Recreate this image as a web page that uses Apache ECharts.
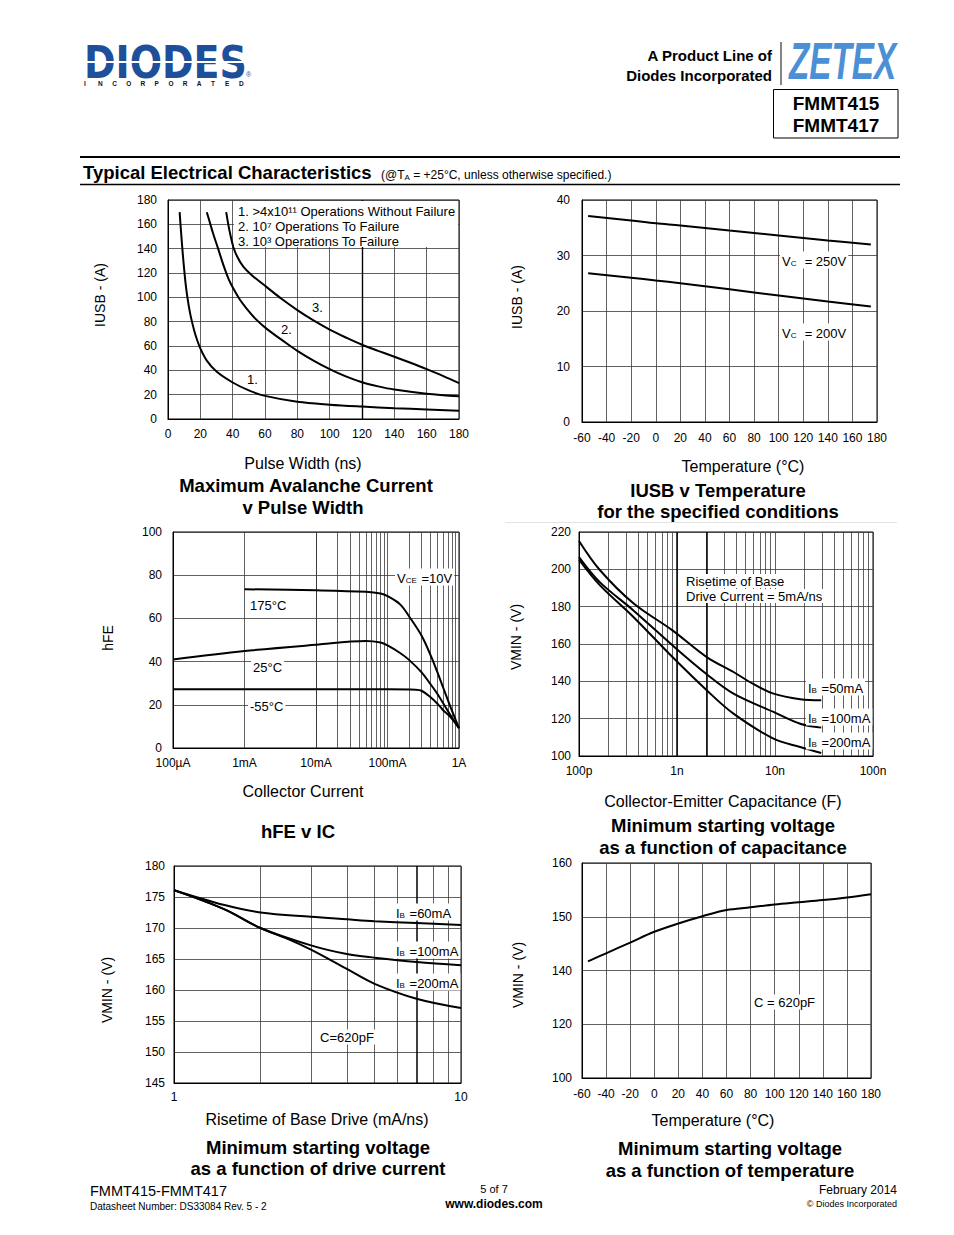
<!DOCTYPE html>
<html>
<head>
<meta charset="utf-8">
<script src="https://cdn.jsdelivr.net/npm/echarts@6/dist/echarts.min.js"></script>
<style>
html,body{margin:0;padding:0;background:#fff;}
#c{width:954px;height:1235px;}
</style>
</head>
<body>
<div id="c"></div>
<script>
// ================= DATA =================
// Chart 1: Maximum Avalanche Current v Pulse Width  ([pulse width ns, IUSB A])
const avalanche1 = [[7.2,170],[8,155],[9,138],[10,123],[11,110],[12,100],[13.5,88],[15,79],[17,69],[20,58],[24,48],[30,39],[40,30],[50,23.5],[60,19],[80,14.2],[100,11.8],[120,10.2],[140,8.9],[160,7.8],[180,6.8]];
const avalanche2 = [[24,170],[26,161],[28,152],[31,140],[34.4,126],[37.5,115],[40.5,107],[44.5,98],[48.8,90.5],[54,82.5],[60.5,74.7],[71.4,64],[80,56],[90,48],[100,41],[110,35],[120,30.2],[130,26.8],[140,24.2],[160,20.8],[180,18.6]];
const avalanche3 = [[36,170],[38,155],[40.5,141],[43,133],[46.7,125],[52,118],[60.5,109],[70,99],[80,89.5],[90,81],[100,73.5],[110,67],[120,61],[130,56],[140,51.2],[150,46.2],[160,41],[170,35.5],[180,29.5]];
const avalancheLegend = ['1. >4x10\u00B9\u00B9 Operations Without Failure','2. 10\u2077 Operations To Failure','3. 10\u00B3 Operations To Failure'];

// Chart 2: IUSB v Temperature
const usbTemps = [-55,-20,0,20,60,100,140,175];
const usbVc250 = [37.1,36.3,35.8,35.4,34.5,33.6,32.7,32.0];
const usbVc200 = [26.8,26.0,25.5,25.0,23.9,22.8,21.7,20.8];

// Chart 3: hFE v IC  ([IC A, hFE])
const hfe175 = [[0.001,73.5],[0.01,73],[0.05,72.3],[0.08,71.5],[0.1,70.3],[0.15,66.5],[0.2,61],[0.3,52],[0.4,43],[0.5,35],[0.6,28],[0.75,19.5],[1,9.2]];
const hfe25 = [[0.0001,41],[0.001,44.9],[0.01,47.8],[0.05,49.5],[0.08,48.8],[0.1,47.5],[0.15,44],[0.2,40.8],[0.3,35],[0.4,29.5],[0.5,25],[0.75,15.5],[1,9.2]];
const hfeM55 = [[0.0001,27.2],[0.1,27.2],[0.25,27],[0.3,26.5],[0.4,23.5],[0.5,20.5],[0.6,17.5],[0.75,14.5],[1,9.2]];
const hfeXLabels = ['100\u00B5A','1mA','10mA','100mA','1A'];

// Chart 4: Minimum starting voltage v capacitance ([C pF, VMIN V])
const capIb50 = [[100,215.2],[164,199.5],[359,181.8],[899,167.3],[2011,153],[3770,145],[6000,138.6],[9660,133.4],[18080,130.4],[29650,129.8]];
const capIb100 = [[100,206.6],[164,193],[359,178],[899,159.3],[2011,143.8],[3770,133.4],[9660,123.6],[18080,117.3],[29650,115.2]];
const capIb200 = [[100,205.2],[164,191.4],[359,174.5],[899,153],[2011,135.2],[3770,122.7],[9660,109.3],[18080,104.8],[29650,101.6]];
const capXLabels = ['100p','1n','10n','100n'];

// Chart 5: Minimum starting voltage v drive current ([mA/ns, VMIN V])
const driveIb60 = [[1,176.1],[1.5,173.7],[2,172.5],[3,171.8],[4,171.4],[5,171.1],[7,170.8],[10,170.5]];
const driveIb100 = [[1,176.1],[1.5,173],[2,170],[3,167.2],[4,165.8],[5,165.2],[7,164.5],[10,164]];
const driveIb200 = [[1,176.1],[1.5,173],[2,170],[2.5,168.2],[3,166.5],[4,163.4],[5,161],[7,158.6],[10,157.1]];
const driveXLabels = ['1','10'];

// Chart 6: Minimum starting voltage v temperature
const vtTemps = [-55,-40,-20,0,20,40,60,80,100,120,140,160,180];
const vtVmin = [141.7,143.2,145.2,147.2,148.75,150.1,151.25,151.75,152.3,152.7,153.1,153.6,154.2];
const vtYTicks = [100,120,140,150,160];

// gridline multipliers for log axes
const logMinor = [2,3,4,5,6,7,8,9];

// ================= HELPERS =================
const F = "'Liberation Sans', Arial, Helvetica, sans-serif";
const GRID_C = '#3a3a3a';

function grid(l,t,w,h){
  return {left:l, top:t, width:w, height:h, show:true, borderColor:'#000', borderWidth:1, backgroundColor:'rgba(0,0,0,0)', containLabel:false};
}
function ax(gi, extra, margin){
  return Object.assign({
    gridIndex: gi,
    axisLine:{show:true, onZero:false, lineStyle:{color:'#000', width:1}},
    axisTick:{show:false},
    axisLabel:{color:'#000', fontSize:12, fontFamily:F, margin: margin},
    splitLine:{show:true, lineStyle:{color:GRID_C, width:0.8}},
    minorTick:{show:false}, minorSplitLine:{show:false}
  }, extra);
}
function curve(xi, data){
  return {type:'line', xAxisIndex:xi, yAxisIndex:xi, data:data, smooth:0.35, showSymbol:false, symbol:'none', z:5,
    lineStyle:{color:'#000', width:2}, silent:true, animation:false};
}
function vlines(xi, vals, color, width){
  return {type:'line', xAxisIndex:xi, yAxisIndex:xi, data:[], silent:true, z:2, animation:false,
    markLine:{silent:true, symbol:['none','none'], animation:false, label:{show:false},
      lineStyle:{type:'solid', color:color, width:width}, emphasis:{disabled:true},
      data: vals.map(v=>({xAxis:v}))}};
}
function logMinorVals(decades){
  const out = [];
  decades.forEach(d => logMinor.forEach(m => out.push(m*d)));
  return out;
}
function logLabel(labels, minExp){
  return v => { const i = Math.round(Math.log10(v)) - minExp; return labels[i] !== undefined ? labels[i] : ''; };
}
function toPiecewise(v, ticks){
  for (let i=0;i<ticks.length-1;i++){
    if (v>=ticks[i] && v<=ticks[i+1]) return i + (v-ticks[i])/(ticks[i+1]-ticks[i]);
  }
  return v < ticks[0] ? 0 : ticks.length-1;
}
function T(text, x, y, o){
  o = o || {};
  const st = {
    text: text, fill: o.color || '#000', fontSize: o.size || 13, fontFamily: o.family || F,
    fontWeight: o.bold ? 'bold' : 'normal', fontStyle: o.italic ? 'italic' : 'normal',
    align: o.align || 'left', verticalAlign: 'middle',
    textAlign: o.align || 'left', textVerticalAlign: 'middle'
  };
  if (o.bg){ st.backgroundColor = '#fff'; st.padding = o.pad || [1,2,1,2]; }
  if (o.rich) st.rich = o.rich;
  return {type:'text', x:x, y:y, z: o.z || 100, rotation: o.rot || 0, scaleX: o.sx || 1, scaleY: o.sy || 1, silent:true, style: st};
}
function subRich(size){
  return {a:{fontSize:size, fontFamily:F, verticalAlign:'bottom', lineHeight:size+2},
          s:{fontSize:Math.round(size*0.65), fontFamily:F, verticalAlign:'bottom', lineHeight:size+2, padding:[0,1,0,0]}};
}
function line(x1,y1,x2,y2,w,c){
  return {type:'line', z:90, silent:true, shape:{x1,y1,x2,y2}, style:{stroke:c||'#000', lineWidth:w||1}};
}
function rect(x,y,w,h,fill,stroke,lw,z){
  return {type:'rect', z:z||50, silent:true, shape:{x,y,width:w,height:h}, style:{fill:fill||'none', stroke:stroke||null, lineWidth:lw||0}};
}

// ================= GRAPHICS (texts) =================
const g = [];
// Header logo DIODES
g.push(T('DIODES', 84, 62, {family:"'DejaVu Sans', sans-serif", bold:true, size:45, color:'#1d4f9b', sx:0.845}));
g.push(rect(84, 61, 162, 2, '#fff', null, 0, 120));
g.push(T('\u00AE', 246, 74, {size:7, color:'#1d4f9b'}));
'INCORPORATED'.split('').forEach((ch,i)=>{ g.push(T(ch, 84 + i*14.1, 83, {size:6.5, bold:true, color:'#111'})); });
// Product line
g.push(T('A Product Line of', 772, 55, {bold:true, size:15, align:'right'}));
g.push(T('Diodes Incorporated', 772, 75, {bold:true, size:15, align:'right'}));
g.push(line(781, 42, 781, 85, 1.2, '#333'));
g.push(T('ZETEX', 789, 61, {bold:true, italic:true, size:52, color:'#4b8fd6', sx:0.64}));
g.push(rect(773.5, 89.5, 124.5, 48.5, 'none', '#000', 1, 60));
g.push(T('FMMT415', 836, 103, {bold:true, size:19, align:'center'}));
g.push(T('FMMT417', 836, 125, {bold:true, size:19, align:'center'}));
// Section heading
g.push(line(80, 157, 900, 157, 2.2));
g.push(line(80, 184.5, 900, 184.5, 1.3));
g.push(T('Typical Electrical Characteristics', 83, 172, {bold:true, size:18.5}));
g.push(T('{a|(@T}{s|A}{a| = +25\u00B0C, unless otherwise specified.)}', 381, 174, {rich:{
  a:{fontSize:12, fontFamily:F, verticalAlign:'bottom', lineHeight:14},
  s:{fontSize:8, fontFamily:F, verticalAlign:'bottom', lineHeight:14}}}));

// Chart 1 texts
g.push(rect(234, 201, 224, 46, '#fff', null, 0, 50));
g.push(T(avalancheLegend[0], 238, 211, {size:13}));
g.push(T(avalancheLegend[1], 238, 226, {size:13}));
g.push(T(avalancheLegend[2], 238, 241, {size:13}));
g.push(T('1.', 247, 379, {size:13}));
g.push(T('2.', 281, 329, {size:13}));
g.push(T('3.', 312, 307, {size:13}));
g.push(T('IUSB - (A)', 100, 295, {size:14, align:'center', rot:Math.PI/2}));
g.push(T('Pulse Width (ns)', 303, 463, {size:16, align:'center'}));
g.push(T('Maximum Avalanche Current', 306, 485, {size:18.5, bold:true, align:'center'}));
g.push(T('v Pulse Width', 303, 507, {size:18.5, bold:true, align:'center'}));

// Chart 2 texts
g.push(T('{a|V}{s|C}{a|  = 250V}', 780, 260, {bg:true, rich:subRich(13)}));
g.push(T('{a|V}{s|C}{a|  = 200V}', 780, 332, {bg:true, rich:subRich(13)}));
g.push(T('IUSB - (A)', 517, 297, {size:14, align:'center', rot:Math.PI/2}));
g.push(T('Temperature (\u00B0C)', 743, 466, {size:16, align:'center'}));
g.push(T('IUSB v Temperature', 718, 490, {size:18.5, bold:true, align:'center'}));
g.push(T('for the specified conditions', 718, 511, {size:18.5, bold:true, align:'center'}));

g.push(line(505, 522.5, 897, 522.5, 1, '#e4e4e4'));

// Chart 3 texts
g.push(T('{a|V}{s|CE}{a| =10V}', 395, 577, {bg:true, rich:subRich(13)}));
g.push(T('175\u00B0C', 248, 605, {bg:true, size:13}));
g.push(T('25\u00B0C', 251, 667, {bg:true, size:13}));
g.push(T('-55\u00B0C', 248, 706, {bg:true, size:13}));
g.push(T('hFE', 108, 638, {size:14, align:'center', rot:Math.PI/2}));
g.push(T('Collector Current', 303, 791, {size:16, align:'center'}));
g.push(T('hFE v IC', 298, 831, {size:18.5, bold:true, align:'center'}));

// Chart 4 texts
g.push(T('Risetime of Base', 685, 581, {size:13, bg:true, pad:[1,1,0,1]}));
g.push(T('Drive Current = 5mA/ns', 685, 596, {size:13, bg:true, pad:[0,1,1,1]}));
g.push(T('{a|I}{s|B}{a| =50mA}', 806, 687, {bg:true, rich:subRich(13)}));
g.push(T('{a|I}{s|B}{a| =100mA}', 806, 717, {bg:true, rich:subRich(13)}));
g.push(T('{a|I}{s|B}{a| =200mA}', 806, 741, {bg:true, rich:subRich(13)}));
g.push(T('VMIN - (V)', 516, 637, {size:14, align:'center', rot:Math.PI/2}));
g.push(T('Collector-Emitter Capacitance (F)', 723, 801, {size:16, align:'center'}));
g.push(T('Minimum starting voltage', 723, 825, {size:18.5, bold:true, align:'center'}));
g.push(T('as a function of capacitance', 723, 847, {size:18.5, bold:true, align:'center'}));

// Chart 5 texts
g.push(T('{a|I}{s|B}{a| =60mA}', 394, 912, {bg:true, rich:subRich(13)}));
g.push(T('{a|I}{s|B}{a| =100mA}', 394, 950, {bg:true, rich:subRich(13)}));
g.push(T('{a|I}{s|B}{a| =200mA}', 394, 982, {bg:true, rich:subRich(13)}));
g.push(T('C=620pF', 318, 1037, {bg:true, size:13}));
g.push(T('VMIN - (V)', 107, 990, {size:14, align:'center', rot:Math.PI/2}));
g.push(T('Risetime of Base Drive (mA/ns)', 317, 1119, {size:16, align:'center'}));
g.push(T('Minimum starting voltage', 318, 1147, {size:18.5, bold:true, align:'center'}));
g.push(T('as a function of drive current', 318, 1168, {size:18.5, bold:true, align:'center'}));

// Chart 6 texts
g.push(T('C = 620pF', 752, 1002, {bg:true, size:13}));
g.push(T('VMIN - (V)', 518, 975, {size:14, align:'center', rot:Math.PI/2}));
g.push(T('Temperature (\u00B0C)', 713, 1120, {size:16, align:'center'}));
g.push(T('Minimum starting voltage', 730, 1148, {size:18.5, bold:true, align:'center'}));
g.push(T('as a function of temperature', 730, 1170, {size:18.5, bold:true, align:'center'}));

// Footer
g.push(T('FMMT415-FMMT417', 90, 1191, {size:14.5}));
g.push(T('Datasheet Number: DS33084 Rev. 5 - 2', 90, 1206, {size:10}));
g.push(T('5 of 7', 494, 1189, {size:11, align:'center'}));
g.push(T('www.diodes.com', 494, 1204, {size:12, bold:true, align:'center'}));
g.push(T('February 2014', 897, 1190, {size:12, align:'right'}));
g.push(T('\u00A9 Diodes Incorporated', 897, 1204, {size:9, align:'right'}));

// ================= OPTION =================
const option = {
  animation:false,
  backgroundColor:'#fff',
  grid:[
    grid(168, 200, 291, 219),
    grid(582, 200, 295, 222),
    grid(173, 532, 286, 216),
    grid(579, 532, 294, 224),
    grid(174, 866, 287, 217),
    grid(582, 863, 289, 215)
  ],
  xAxis:[
    ax(0, {type:'value', min:0, max:180, interval:20}, 9),
    ax(1, {type:'value', min:-60, max:180, interval:20}, 10),
    ax(2, {type:'log', logBase:10, min:0.0001, max:1, interval:1,
      axisLabel:{color:'#000', fontSize:12, fontFamily:F, margin:9, formatter: logLabel(hfeXLabels, -4)}}),
    ax(3, {type:'log', logBase:10, min:100, max:100000, interval:1,
      axisLabel:{color:'#000', fontSize:12, fontFamily:F, margin:9, formatter: logLabel(capXLabels, 2)}}),
    ax(4, {type:'log', logBase:10, min:1, max:10, interval:1,
      axisLabel:{color:'#000', fontSize:12, fontFamily:F, margin:8, formatter: logLabel(driveXLabels, 0)}}),
    ax(5, {type:'value', min:-60, max:180, interval:20}, 10)
  ],
  yAxis:[
    ax(0, {type:'value', min:0, max:180, interval:20}, 11),
    ax(1, {type:'value', min:0, max:40, interval:10}, 12),
    ax(2, {type:'value', min:0, max:100, interval:20}, 11),
    ax(3, {type:'value', min:100, max:220, interval:20}, 8),
    ax(4, {type:'value', min:145, max:180, interval:5}, 9),
    ax(5, {type:'value', min:0, max:vtYTicks.length-1, interval:1,
      axisLabel:{color:'#000', fontSize:12, fontFamily:F, margin:10, formatter: v => String(vtYTicks[Math.round(v)])}})
  ],
  graphic: g,
  series:[
    // chart 1
    vlines(0, [120], '#000', 1.4),
    curve(0, avalanche1), curve(0, avalanche2), curve(0, avalanche3),
    // chart 2
    curve(1, usbTemps.map((t,i)=>[t, usbVc250[i]])),
    curve(1, usbTemps.map((t,i)=>[t, usbVc200[i]])),
    // chart 3
    vlines(2, logMinorVals([0.0001,0.001,0.01,0.1]), GRID_C, 0.8),
    curve(2, hfe175), curve(2, hfe25), curve(2, hfeM55),
    // chart 4
    vlines(3, logMinorVals([100,1000,10000]), GRID_C, 0.8),
    vlines(3, [1000, 2000], '#000', 1.5),
    curve(3, capIb50), curve(3, capIb100), curve(3, capIb200),
    // chart 5
    vlines(4, [2,3,4,5,6,8,9], GRID_C, 0.8),
    vlines(4, [7], '#000', 1.5),
    curve(4, driveIb60), curve(4, driveIb100), curve(4, driveIb200),
    // chart 6
    curve(5, vtTemps.map((t,i)=>[t, toPiecewise(vtVmin[i], vtYTicks)]))
  ]
};

const chart = echarts.init(document.getElementById('c'), null, {renderer:'svg', width:954, height:1235});
chart.setOption(option);
</script>
</body>
</html>
